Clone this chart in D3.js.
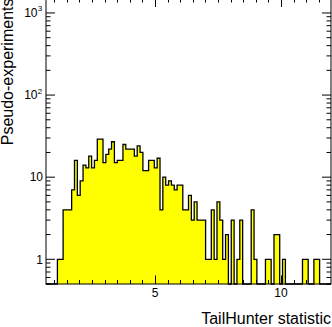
<!DOCTYPE html>
<html>
<head>
<meta charset="utf-8">
<script src="https://cdn.jsdelivr.net/npm/d3@7"></script>
<style>
  body { margin: 0; background: #fff; }
  svg { display: block; font-family: "Liberation Sans", Arial, sans-serif; }
</style>
</head>
<body>
<div class="chart"></div>
<script>
// histogram range (100 equal bins)
var binLow = 0.675,
    binHigh = 11.984;

// counts per bin
var counts = [
  0, 0, 0, 0, 1, 1, 4, 4, 4, 7,
  16, 6, 9, 14, 13, 18, 13, 16, 29, 29,
  15, 19, 22, 27, 15, 16, 16, 25, 22, 22,
  22, 18, 24, 20, 12, 12, 16, 16, 13, 17,
  4, 10, 8, 9, 8, 7, 8, 8, 4, 4,
  6, 3, 5, 3, 3, 3, 1, 1, 4, 1,
  5, 3, 1, 2, 0, 3, 0, 1, 3, 0,
  0, 0, 4, 1, 0, 0, 0, 1, 1, 0,
  2, 2, 0, 1, 0, 0, 0, 0, 0, 0,
  1, 1, 0, 0, 1, 1, 0, 0, 0, 0
];

var xTicksMajor = [5, 10],
    xTickLabels = ["5", "10"];
var yTicksMajor = [1, 10, 100, 1000],
    yTickBase = ["1", "10", "10", "10"],
    yTickExp = ["", "", "2", "3"];
var yRange = [0.5, 1500];

var xTitle = "TailHunter statistic",
    yTitle = "Pseudo-experiments";

function drawHist() {
  var W = 332, H = 327,
      frame = {left: 46, right: 331, top: -1.5, bottom: 284};

  var svg = d3.select(".chart").html("").append("svg")
      .attr("width", W).attr("height", H);

  var x = d3.scaleLinear().domain([binLow, binHigh]).range([frame.left, frame.right]),
      y = d3.scaleLog().domain(yRange).range([frame.bottom, frame.top]);

  var nb = counts.length,
      bw = (binHigh - binLow) / nb;

  // step points, zero bins sit on the bottom of the frame
  var pts = [];
  counts.forEach(function(c, i) {
    var lo = binLow + i * bw, hi = lo + bw;
    var yy = c > 0 ? y(c) : frame.bottom;
    pts.push([x(lo), yy]);
    pts.push([x(hi), yy]);
  });
  pts.unshift([pts[0][0], frame.bottom]);
  pts.push([pts[pts.length - 1][0], frame.bottom]);

  svg.append("path")
      .attr("d", d3.area().x(function(d) { return d[0]; })
                          .y0(frame.bottom).y1(function(d) { return d[1]; })(pts))
      .attr("fill", "#ffff00");

  svg.append("path")
      .attr("d", d3.line()(pts))
      .attr("fill", "none")
      .attr("stroke", "#000")
      .attr("stroke-width", 1.3);

  // frame
  svg.append("rect")
      .attr("x", frame.left).attr("y", frame.top)
      .attr("width", frame.right - frame.left)
      .attr("height", frame.bottom - frame.top)
      .attr("fill", "none").attr("stroke", "#000").attr("stroke-width", 1);

  var ticks = svg.append("g").attr("stroke", "#000").attr("stroke-width", 1);

  // x ticks (bottom and top)
  var xMinor = d3.range(1, 12, 0.5);
  xMinor.forEach(function(v) {
    var big = xTicksMajor.indexOf(v) >= 0,
        len = big ? 8.5 : 4;
    var px = Math.round(x(v)) + 0.5;
    ticks.append("line").attr("x1", px).attr("x2", px)
        .attr("y1", frame.bottom).attr("y2", frame.bottom - len);
    ticks.append("line").attr("x1", px).attr("x2", px)
        .attr("y1", frame.top).attr("y2", frame.top + len);
  });

  // y ticks (left and right), log decades with 2..9 minors
  var yMinor = [];
  [0.1, 1, 10, 100, 1000].forEach(function(dec) {
    for (var k = 1; k <= 9; k++) {
      var v = dec * k;
      if (v >= yRange[0] && v <= yRange[1]) yMinor.push(v);
    }
  });
  yMinor.forEach(function(v) {
    var big = yTicksMajor.indexOf(v) >= 0,
        len = big ? 9 : 4.5;
    var py = y(v);
    ticks.append("line").attr("x1", frame.left).attr("x2", frame.left + len)
        .attr("y1", py).attr("y2", py);
    ticks.append("line").attr("x1", frame.right).attr("x2", frame.right - len)
        .attr("y1", py).attr("y2", py);
  });

  // x tick labels
  svg.selectAll(".xlab")
    .data(xTicksMajor)
    .enter().append("text")
      .attr("class", "xlab")
      .attr("x", function(d) { return x(d); })
      .attr("y", 297)
      .attr("text-anchor", "middle")
      .style("font-size", "12px")
      .text(function(d, i) { return xTickLabels[i]; });

  // y tick labels with exponents
  yTicksMajor.forEach(function(v, i) {
    var t = svg.append("text")
        .attr("y", y(v) + 4.3)
        .style("font-size", "12px");
    if (yTickExp[i]) {
      t.attr("x", 37.5).attr("text-anchor", "end").text(yTickBase[i]);
      svg.append("text")
          .attr("x", 37.8).attr("y", y(v) - 1.5)
          .style("font-size", "8px")
          .text(yTickExp[i]);
    } else {
      t.attr("x", 43).attr("text-anchor", "end").text(yTickBase[i]);
    }
  });

  // axis titles, right aligned at axis ends like ROOT
  svg.append("text")
      .attr("x", frame.right).attr("y", 323.5)
      .attr("text-anchor", "end")
      .style("font-size", "16px")
      .text(xTitle);

  svg.append("text")
      .attr("transform", "translate(13.3," + frame.top + ") rotate(-90)")
      .attr("text-anchor", "end")
      .style("font-size", "16px")
      .text(yTitle);
}

drawHist();
</script>
</body>
</html>
